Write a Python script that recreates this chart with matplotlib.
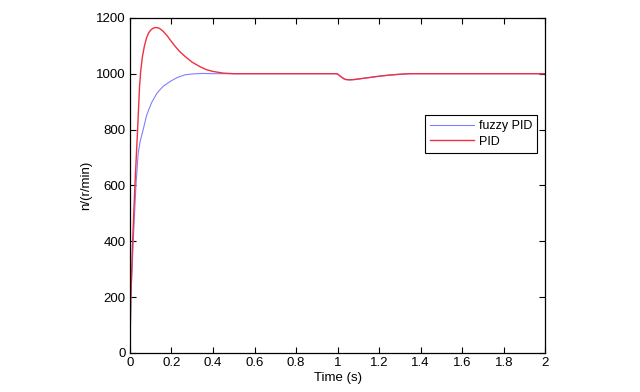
import matplotlib
matplotlib.use("Agg")
import matplotlib.pyplot as plt

plt.rcParams['font.family'] = ['Liberation Sans', 'DejaVu Sans']

# PID response
t_pid = [0, 0.004, 0.013, 0.024, 0.037, 0.046, 0.052, 0.06, 0.07, 0.08, 0.09, 0.10, 0.11, 0.12, 0.13, 0.14,
         0.15, 0.16, 0.18, 0.20, 0.22, 0.24, 0.265, 0.30, 0.34, 0.37, 0.40, 0.45,
         0.5, 0.99, 1.0, 1.01, 1.02, 1.03, 1.04, 1.06, 1.08, 1.10, 1.15, 1.20, 1.25, 1.30, 1.35, 2.0]
n_pid = [0, 190, 400, 600, 800, 950, 1010, 1060, 1100, 1128, 1146, 1156, 1162, 1165, 1165, 1163,
         1158, 1152, 1135, 1115, 1096, 1079, 1062, 1041, 1024, 1014, 1008, 1002,
         1000, 1000, 999, 993, 987, 982, 979, 978, 979, 981, 986, 991, 995, 998, 1000, 1000]

# fuzzy PID response
t_fuzzy = [0, 0.005, 0.016, 0.029, 0.04, 0.05, 0.064, 0.08, 0.104, 0.13, 0.16, 0.20, 0.23, 0.265,
           0.30, 0.35, 0.40, 0.5, 0.99, 1.0, 1.01, 1.02, 1.03, 1.04, 1.06, 1.08,
           1.10, 1.15, 1.20, 1.25, 1.30, 1.35, 2.0]
n_fuzzy = [0, 200, 400, 600, 717, 760, 800, 850, 896, 930, 955, 975, 987, 996,
           999, 1001, 1000, 1000, 1000, 999, 993, 987, 982, 979, 978, 979,
           981, 986, 991, 995, 998, 1000, 1000]

x_ticks = [0, 0.2, 0.4, 0.6, 0.8, 1, 1.2, 1.4, 1.6, 1.8, 2]
x_labels = ['0', '0.2', '0.4', '0.6', '0.8', '1', '1.2', '1.4', '1.6', '1.8', '2']
y_ticks = [0, 200, 400, 600, 800, 1000, 1200]

fig = plt.figure(figsize=(6.4, 3.92), dpi=100)
ax = fig.add_axes([0.203, 0.0995, 0.649, 0.855])

ax.plot(t_fuzzy, n_fuzzy, color='#8080ff', lw=0.8, label='fuzzy PID')
ax.plot(t_pid, n_pid, color='#f03040', lw=1.0, label='PID')

ax.set_xlim(0, 2)
ax.set_ylim(0, 1200)
ax.set_xticks(x_ticks)
ax.set_xticklabels(x_labels)
ax.set_yticks(y_ticks)
ax.tick_params(direction='in', top=True, right=True, labelsize=9.5, length=4, width=0.8, pad=3)
for s in ax.spines.values():
    s.set_linewidth(0.9)
ax.set_xlabel('Time (s)', fontsize=9.5, labelpad=2)
ax.set_ylabel('n/(r/min)', fontsize=9.5, labelpad=3)

leg = ax.legend(loc='upper right', bbox_to_anchor=(0.981, 0.710), borderaxespad=0,
                fontsize=9, fancybox=False, edgecolor='black', framealpha=1,
                handlelength=3.5, borderpad=0.4, labelspacing=0.3, handletextpad=0.4)
leg.get_frame().set_linewidth(0.8)

fig.savefig('out.png', dpi=100)
